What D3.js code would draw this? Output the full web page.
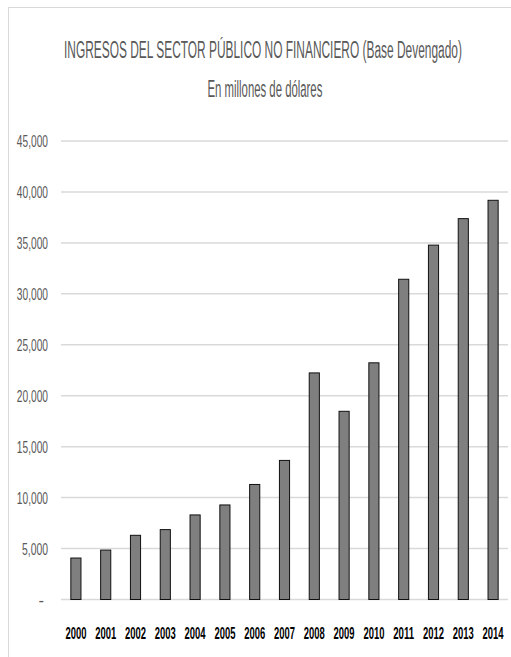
<!DOCTYPE html>
<html><head><meta charset="utf-8">
<script src="https://cdn.jsdelivr.net/npm/d3@7"></script>
<style>body{margin:0;background:#fff}svg{display:block}text{font-family:"Liberation Sans",sans-serif}</style>
</head><body>
<script>
const years = ["2000","2001","2002","2003","2004","2005","2006","2007","2008","2009","2010","2011","2012","2013","2014"];
const ingresos = [4070,4850,6300,6860,8300,9280,11290,13650,22240,18470,23230,31430,34780,37380,39180];
const yTicks = [0,5000,10000,15000,20000,25000,30000,35000,40000,45000];
const title = "INGRESOS DEL SECTOR PÚBLICO NO FINANCIERO (Base Devengado)";
const subtitle = "En millones de dólares";

const W = 511, H = 657;
const svg = d3.select("body").append("svg").attr("width", W).attr("height", H);

// squeeze a text horizontally to a given width, keeping its anchor point
function place(sel, px, py, target, anchor) {
  sel.each(function (d, i) {
    const t = d3.select(this).attr("x", 0).attr("y", 0).attr("text-anchor", "start");
    const w = this.getComputedTextLength();
    const tw = typeof target === "function" ? target(d, i) : target;
    const s = tw ? tw / w : 1;
    const X = typeof px === "function" ? px(d, i) : px;
    const Y = typeof py === "function" ? py(d, i) : py;
    const realW = w * s;
    const x0 = anchor === "end" ? X - realW : anchor === "middle" ? X - realW / 2 : X;
    t.attr("transform", `translate(${x0},${Y}) scale(${s},1)`);
  });
}

// chart border
svg.append("rect").attr("x", 8.5).attr("y", 7.5).attr("width", W + 10).attr("height", H + 10)
  .attr("fill", "none").attr("stroke", "#d9d9d9").attr("stroke-width", 1);

const x = d3.scaleBand().domain(years).range([61, 508]).paddingInner(0.66).paddingOuter(0.33);
const y = d3.scaleLinear().domain([0, 45000]).range([599.5, 141]);

// gridlines
svg.append("g").selectAll("line").data(yTicks).join("line")
  .attr("x1", 61).attr("x2", 508)
  .attr("y1", d => y(d)).attr("y2", d => y(d))
  .attr("stroke", "#d9d9d9").attr("stroke-width", 1.5);

// y axis labels
const fmt = d3.format(",");
const yl = svg.append("g").selectAll("text").data(yTicks).join("text")
  .attr("font-size", 16.5).attr("fill", "#595959")
  .text(d => d === 0 ? "-" : fmt(d));
place(yl, d => d === 0 ? 44 : 48, d => y(d) + 6, d => d === 0 ? 0 : fmt(d).length * 5.2, "end");

// bars
svg.append("g").selectAll("rect").data(ingresos).join("rect")
  .attr("x", (d, i) => x(years[i]))
  .attr("y", d => y(d))
  .attr("width", x.bandwidth())
  .attr("height", d => y(0) - y(d))
  .attr("fill", "#7f7f7f").attr("stroke", "#111").attr("stroke-width", 1);

// x labels
const xl = svg.append("g").selectAll("text").data(years).join("text")
  .attr("font-size", 17).attr("font-weight", "bold").attr("fill", "#000")
  .text(d => d);
place(xl, d => x(d) + x.bandwidth() / 2, 639, 21, "middle");

// titles
const t1 = svg.append("text").attr("font-size", 23.5).attr("fill", "#595959").text(title);
place(t1, 263, 58, 398, "middle");
const t2 = svg.append("text").attr("font-size", 23.5).attr("fill", "#595959").text(subtitle);
place(t2, 265, 97, 115, "middle");
</script>
</body></html>
